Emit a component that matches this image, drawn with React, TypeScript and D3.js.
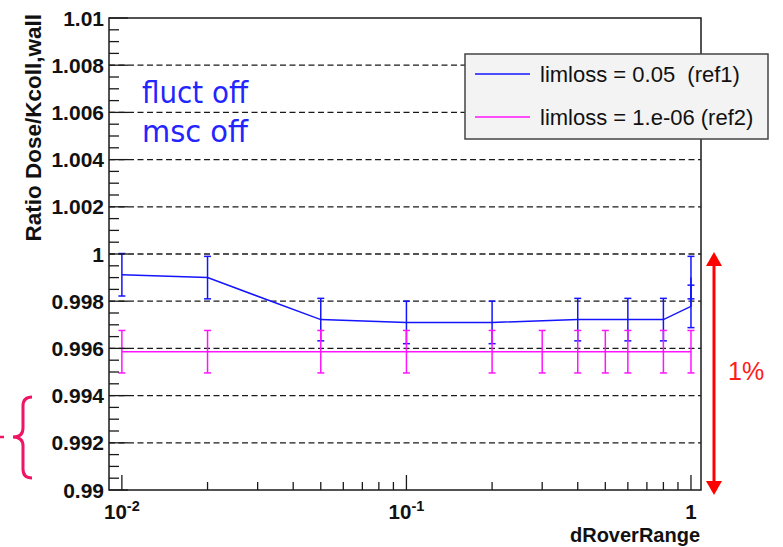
import React from 'react';
import * as d3 from 'd3';

// ---- data ----
const yMajorTicks = [0.99, 0.992, 0.994, 0.996, 0.998, 1, 1.002, 1.004, 1.006, 1.008, 1.01];
const yTickLabels = ['0.99', '0.992', '0.994', '0.996', '0.998', '1', '1.002', '1.004', '1.006', '1.008', '1.01'];
const xMajorTicks = [0.01, 0.1, 1];
const xTickBase = ['10', '10', '1'];
const xTickExp = ['-2', '-1', ''];

// limloss = 0.05 (ref1)
const ref1X = [0.01, 0.02, 0.05, 0.1, 0.2, 0.4, 0.6, 0.8, 1.0, 1.0];
const ref1Y = [0.99912, 0.999, 0.99722, 0.9971, 0.9971, 0.99722, 0.99722, 0.99722, 0.99778, 0.999];
const ref1Err = [0.0009, 0.0009, 0.0009, 0.0009, 0.0009, 0.0009, 0.0009, 0.0009, 0.0009, 0.0009];

// limloss = 1.e-06 (ref2)
const ref2X = [0.01, 0.02, 0.05, 0.1, 0.2, 0.3, 0.4, 0.5, 0.6, 0.8, 1.0];
const ref2Y = [0.99586, 0.99586, 0.99586, 0.99586, 0.99586, 0.99586, 0.99586, 0.99586, 0.99586, 0.99586, 0.99586];
const ref2Err = [0.0009, 0.0009, 0.0009, 0.0009, 0.0009, 0.0009, 0.0009, 0.0009, 0.0009, 0.0009, 0.0009];

const legendLabels = ['limloss = 0.05  (ref1)', 'limloss = 1.e-06 (ref2)'];
const seriesColors = ['#1414ff', '#ff14ff'];

const W = 783;
const H = 547;
const FONT = '"Liberation Sans", Arial, sans-serif';

export default function App() {
  const left = 109, right = 701, top = 18, bottom = 490;

  const x = d3.scaleLog().domain([0.00901, 1.0845]).range([left, right]);
  const y = d3.scaleLinear().domain([0.99, 1.01]).range([bottom, top]);

  // axis subdivisions: 4 per major step on y, 1..9 per decade on x
  const yMinor = d3.range(0, 41).map((i) => 0.99 + i * 0.0005);
  const xMinor = x.ticks();

  const series = [
    { xs: ref1X, ys: ref1Y, es: ref1Err, color: seriesColors[0] },
    { xs: ref2X, ys: ref2Y, es: ref2Err, color: seriesColors[1] },
  ];

  const pathFor = (xs: number[], ys: number[]) =>
    d3.line<number>()
      .x((_, i) => x(xs[i]))
      .y((_, i) => y(ys[i]))(xs) || '';

  return (
    <svg width={W} height={H} style={{ position: 'absolute', left: 0, top: 0, background: '#fff' }}>
      <rect x={0} y={0} width={W} height={H} fill="#fff" />

      {/* dashed grid */}
      {yMajorTicks.slice(1, -1).map((t) => (
        <line key={'g' + t} x1={left} x2={right} y1={y(t)} y2={y(t)}
          stroke="#1a1a1a" strokeWidth={1.3} strokeDasharray="6,3.5" />
      ))}

      {/* series */}
      {series.map((s, si) => (
        <g key={'s' + si} stroke={s.color} fill="none" strokeWidth={1.5}>
          <path d={pathFor(s.xs, s.ys)} />
          {s.xs.map((xv, i) => {
            const cx = x(xv);
            const y1 = y(s.ys[i] + s.es[i]);
            const y2 = y(s.ys[i] - s.es[i]);
            return (
              <g key={i}>
                <line x1={cx} x2={cx} y1={y1} y2={y2} />
                <line x1={cx - 3.5} x2={cx + 3.5} y1={y1} y2={y1} />
                <line x1={cx - 3.5} x2={cx + 3.5} y1={y2} y2={y2} />
              </g>
            );
          })}
        </g>
      ))}

      {/* frame */}
      <rect x={left} y={top} width={right - left} height={bottom - top} fill="none" stroke="#1a1a1a" strokeWidth={1.5} />

      {/* y ticks */}
      {yMinor.map((t, i) => (
        <line key={'ym' + i} x1={left} x2={left + (i % 4 === 0 ? 19 : 10)} y1={y(t)} y2={y(t)}
          stroke="#1a1a1a" strokeWidth={1.3} />
      ))}
      {yMajorTicks.map((t, i) => (
        <text key={'yl' + t} x={104} y={y(t) + 7.5} textAnchor="end" fontFamily={FONT}
          fontWeight="bold" fontSize={21} fill="#111">{yTickLabels[i]}</text>
      ))}

      {/* x ticks */}
      {xMinor.map((t, i) => {
        const major = xMajorTicks.some((m) => Math.abs(m - t) < 1e-9);
        return (
          <line key={'xm' + i} x1={x(t)} x2={x(t)} y1={bottom} y2={bottom - (major ? 15 : 8)}
            stroke="#1a1a1a" strokeWidth={1.3} />
        );
      })}
      {xMajorTicks.map((t, i) => (
        <text key={'xl' + t} x={x(t)} y={519} textAnchor="middle" fontFamily={FONT}
          fontWeight="bold" fontSize={20.5} fill="#111">
          {xTickBase[i]}
          {xTickExp[i] && <tspan fontSize={14.5} dy={-8}>{xTickExp[i]}</tspan>}
        </text>
      ))}

      {/* axis titles */}
      <text x={700} y={542} textAnchor="end" fontFamily={FONT} fontWeight="bold" fontSize={20} fill="#111">dRoverRange</text>
      <text transform="translate(41,14) rotate(-90)" textAnchor="end" fontFamily={FONT}
        fontWeight="bold" fontSize={22.5} fill="#111">Ratio Dose/Kcoll,wall</text>

      {/* annotations */}
      <text x={142} y={103} fontFamily='"DejaVu Sans", Verdana, sans-serif' fontSize={31}
        textLength={106} lengthAdjust="spacingAndGlyphs" fill="#2424ff">fluct off</text>
      <text x={142} y={142} fontFamily='"DejaVu Sans", Verdana, sans-serif' fontSize={31}
        textLength={106} lengthAdjust="spacingAndGlyphs" fill="#2424ff">msc off</text>

      {/* legend */}
      <rect x={465} y={54} width={303} height={85} fill="#f3f3f3" stroke="#444" strokeWidth={1.5} />
      {legendLabels.map((lab, i) => (
        <g key={'lg' + i}>
          <line x1={475} x2={530} y1={74 + i * 43} y2={74 + i * 43} stroke={seriesColors[i]} strokeWidth={1.5} />
          <text x={540} y={82 + i * 43} fontFamily={FONT} fontSize={22} fill="#111"
            style={{ whiteSpace: 'pre' }}>{lab}</text>
        </g>
      ))}

      {/* 1% arrow */}
      <line x1={714} x2={714} y1={264} y2={482} stroke="#ff0000" strokeWidth={3} />
      <path d="M714,252 L706,266 L722,266 Z" fill="#ff0000" />
      <path d="M714,495 L706,481 L722,481 Z" fill="#ff0000" />
      <text x={728} y={380} fontFamily={FONT} fontSize={25} fill="#ff1a1a">1%</text>

      {/* brace on the left */}
      <path d="M32,397 Q23,397 23,406 L23,428 Q23,437 13,437 Q23,437 23,446 L23,469 Q23,478 32,478"
        fill="none" stroke="#f01464" strokeWidth={3} />
      <line x1={0} x2={4} y1={437} y2={437} stroke="#f01464" strokeWidth={2.5} />
    </svg>
  );
}
